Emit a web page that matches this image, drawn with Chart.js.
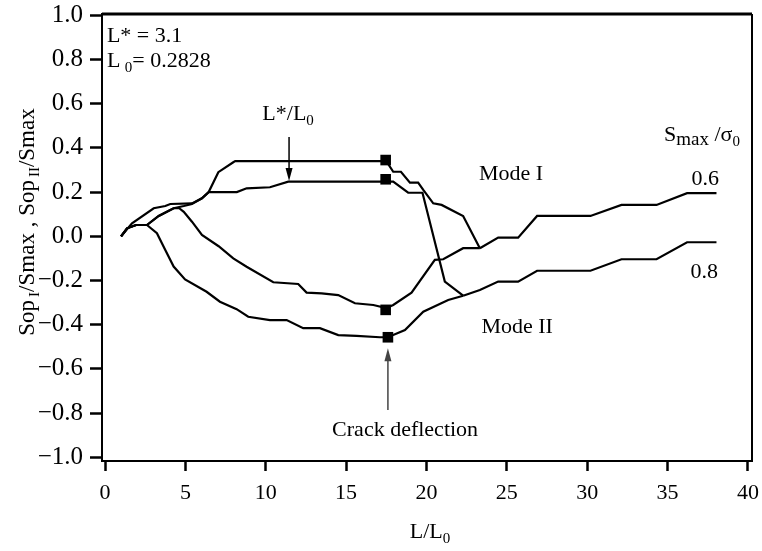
<!DOCTYPE html>
<html>
<head>
<meta charset="utf-8">
<script src="https://cdn.jsdelivr.net/npm/chart.js@4/dist/chart.umd.min.js"></script>
<style>
html,body{margin:0;padding:0;background:#fff;}
#wrap{width:762px;height:551px;}
</style>
</head>
<body>
<div id="wrap"><canvas id="c" width="762" height="551"></canvas></div>
<script>
// Axis ticks
const xTicks = [0, 5, 10, 15, 20, 25, 30, 35, 40];
const yTicks = [-1.0, -0.8, -0.6, -0.4, -0.2, 0.0, 0.2, 0.4, 0.6, 0.8, 1.0];

// Mode I, Smax/σ0 = 0.6
const modeI06X = [1, 1.68, 3.03, 3.75, 4.06, 5.41, 6.03, 6.45, 7.05, 7.98, 8.1, 17.5, 17.93, 18.41, 18.97, 19.48, 19.8, 20.42, 20.94, 22.28, 23.32];
const modeI06Y = [0, 0.059, 0.127, 0.137, 0.146, 0.149, 0.172, 0.2, 0.29, 0.335, 0.34, 0.34, 0.292, 0.292, 0.243, 0.243, 0.21, 0.149, 0.142, 0.092, -0.054];

// Mode I, Smax/σ0 = 0.8
const modeI08X = [1, 1.37, 1.93, 2.61, 3.34, 4.27, 4.9, 5.41, 6.03, 6.45, 8.2, 8.81, 10.26, 11.4, 17.5, 17.93, 18.86, 19.75, 21.14, 22.28];
const modeI08Y = [0, 0.036, 0.051, 0.051, 0.092, 0.127, 0.137, 0.146, 0.172, 0.2, 0.2, 0.217, 0.222, 0.247, 0.247, 0.247, 0.197, 0.197, -0.205, -0.269];

// Mode II, Smax/σ0 = 0.6
const modeII06X = [1, 1.37, 1.93, 2.61, 3.34, 4.27, 4.6, 4.9, 5.41, 6.03, 7.07, 7.98, 8.81, 10.47, 12.02, 12.54, 13.48, 14.51, 15.55, 16.69, 17.5, 17.93, 19.07, 20.52, 21.04, 22.28, 23.32];
const modeII06Y = [0, 0.036, 0.051, 0.051, 0.092, 0.127, 0.128, 0.111, 0.066, 0.006, -0.045, -0.1, -0.138, -0.208, -0.216, -0.255, -0.258, -0.266, -0.303, -0.311, -0.325, -0.311, -0.255, -0.107, -0.104, -0.054, -0.054];

// Mode II, Smax/σ0 = 0.8
const modeII08X = [1, 1.37, 1.93, 2.61, 3.23, 3.75, 4.27, 4.98, 6.32, 7.15, 8.19, 8.91, 10.26, 11.3, 12.33, 13.37, 14.51, 15.65, 17.1, 17.6, 18.66, 19.8, 21.35, 22.28];
const modeII08Y = [0, 0.036, 0.051, 0.051, 0.014, -0.062, -0.137, -0.195, -0.251, -0.296, -0.33, -0.364, -0.379, -0.379, -0.416, -0.416, -0.447, -0.451, -0.457, -0.457, -0.424, -0.341, -0.288, -0.269];

// After crack deflection the two modes share one curve
const tail06X = [23.32, 24.46, 25.7, 26.88, 30.2, 32.13, 34.31, 36.21, 38.04];
const tail06Y = [-0.054, -0.006, -0.006, 0.092, 0.092, 0.142, 0.142, 0.195, 0.195];
const tail08X = [22.28, 23.32, 24.46, 25.7, 26.88, 30.2, 32.13, 34.31, 36.21, 38.04];
const tail08Y = [-0.269, -0.243, -0.205, -0.205, -0.156, -0.156, -0.104, -0.104, -0.027, -0.027];

// Crack deflection points
const deflX = [17.46, 17.46, 17.46, 17.6];
const deflY = [0.345, 0.258, -0.333, -0.457];

const FONT = '"Liberation Serif", "Times New Roman", serif';
const pts = (xs, ys) => xs.map((x, i) => ({x: x, y: ys[i]}));

function lineSet(xs, ys) {
  return {
    type: 'line',
    data: pts(xs, ys),
    borderColor: '#000',
    borderWidth: 2.2,
    pointRadius: 0,
    tension: 0,
    fill: false
  };
}

// Text annotations, anchored in data units; parts = [text, size, baseline shift]
const notes = [
  {x: 0.12, y: 0.879, align: 'left', parts: [['L* = 3.1', 22, 0]]},
  {x: 0.12, y: 0.765, align: 'left', parts: [['L\u2009', 22, 0], ['0', 15, 5], ['= 0.2828', 22, 0]]},
  {x: 11.39, y: 0.526, align: 'center', parts: [['L*/L', 22, 0], ['0', 15, 5]]},
  {x: 25.26, y: 0.255, align: 'center', parts: [['Mode I', 22, 0]]},
  {x: 39.5, y: 0.431, align: 'right', parts: [['S', 22, 0], ['max', 19, 4], [' /\u03C3', 22, 0], ['0', 15, 5]]},
  {x: 37.34, y: 0.232, align: 'center', parts: [['0.6', 22, 0]]},
  {x: 37.28, y: -0.189, align: 'center', parts: [['0.8', 22, 0]]},
  {x: 25.64, y: -0.437, align: 'center', parts: [['Mode II', 22, 0]]},
  {x: 18.67, y: -0.904, align: 'center', parts: [['Crack deflection', 22, 0]]}
];

// Arrows: from tail to tip, in data units
const arrows = [
  {x: 11.45, y0: 0.449, y1: 0.25, color: '#000'},
  {x: 17.6, y0: -0.786, y1: -0.507, color: '#444'}
];

function rich(ctx, parts, x, y, align) {
  const widths = parts.map(p => { ctx.font = p[1] + 'px ' + FONT; return ctx.measureText(p[0]).width; });
  const total = widths.reduce((a, b) => a + b, 0);
  let sx = align === 'center' ? x - total / 2 : (align === 'right' ? x - total : x);
  ctx.textAlign = 'left';
  ctx.textBaseline = 'alphabetic';
  parts.forEach((p, i) => {
    ctx.font = p[1] + 'px ' + FONT;
    ctx.fillText(p[0], sx, y + p[2]);
    sx += widths[i];
  });
}

const decor = {
  id: 'decor',
  afterDraw(chart) {
    const ctx = chart.ctx;
    const a = chart.chartArea;
    const xs = chart.scales.x, ys = chart.scales.y;
    ctx.save();
    // closing frame lines (top and right)
    ctx.strokeStyle = '#000';
    ctx.lineWidth = 2.8;
    ctx.beginPath();
    ctx.moveTo(a.left, a.top);
    ctx.lineTo(a.right, a.top);
    ctx.stroke();
    ctx.lineWidth = 2;
    ctx.beginPath();
    ctx.moveTo(a.right, a.top);
    ctx.lineTo(a.right, a.bottom);
    ctx.stroke();

    ctx.fillStyle = '#000';
    notes.forEach(n => rich(ctx, n.parts, xs.getPixelForValue(n.x), ys.getPixelForValue(n.y), n.align));

    arrows.forEach(ar => {
      const px = xs.getPixelForValue(ar.x);
      const p0 = ys.getPixelForValue(ar.y0);
      const p1 = ys.getPixelForValue(ar.y1);
      const dir = p1 > p0 ? 1 : -1;
      ctx.strokeStyle = ar.color;
      ctx.fillStyle = ar.color;
      ctx.lineWidth = 1.5;
      ctx.beginPath();
      ctx.moveTo(px, p0);
      ctx.lineTo(px, p1 - dir * 10);
      ctx.stroke();
      ctx.beginPath();
      ctx.moveTo(px, p1);
      ctx.lineTo(px - 3.5, p1 - dir * 13);
      ctx.lineTo(px + 3.5, p1 - dir * 13);
      ctx.closePath();
      ctx.fill();
    });

    // axis titles
    ctx.fillStyle = '#000';
    rich(ctx, [['L/L', 22, 0], ['0', 15, 5]], (a.left + a.right) / 2 + 3, 538, 'center');
    ctx.translate(34, 222);
    ctx.rotate(-Math.PI / 2);
    rich(ctx, [['Sop', 23, 0], ['\u2009I', 15, 5], ['/Smax , Sop', 23, 0], ['\u2009II', 15, 5], ['/Smax', 23, 0]], 0, 0, 'center');
    ctx.restore();
  }
};

new Chart(document.getElementById('c'), {
  data: {
    datasets: [
      lineSet(modeI06X, modeI06Y),
      lineSet(modeI08X, modeI08Y),
      lineSet(modeII06X, modeII06Y),
      lineSet(modeII08X, modeII08Y),
      lineSet(tail06X, tail06Y),
      lineSet(tail08X, tail08Y),
      {
        type: 'scatter',
        data: pts(deflX, deflY),
        pointStyle: 'rect',
        pointRadius: 7.5,
        backgroundColor: '#000',
        borderColor: '#000',
        borderWidth: 0
      }
    ]
  },
  options: {
    responsive: false,
    devicePixelRatio: 1,
    animation: false,
    layout: {padding: {top: 14, right: 10, left: 0, bottom: 0}},
    plugins: {legend: {display: false}, tooltip: {enabled: false}},
    scales: {
      x: {
        type: 'linear',
        min: -0.187,
        max: 40.25,
        afterBuildTicks: s => { s.ticks = xTicks.map(v => ({value: v})); },
        afterFit: s => { s.height = 90; s.paddingLeft = 0; s.paddingRight = 0; },
        grid: {drawOnChartArea: false, drawTicks: true, tickLength: 10, tickWidth: 2.5, tickColor: '#000'},
        border: {display: true, color: '#000', width: 2},
        ticks: {color: '#000', font: {family: FONT, size: 22}, padding: 9, maxRotation: 0,
                callback: v => String(v)}
      },
      y: {
        type: 'linear',
        min: -1.017,
        max: 1.006,
        afterBuildTicks: s => { s.ticks = yTicks.map(v => ({value: v})); },
        afterFit: s => { s.width = 102; s.paddingTop = 0; s.paddingBottom = 0; },
        grid: {drawOnChartArea: false, drawTicks: true, tickLength: 12, tickWidth: 2.5, tickColor: '#000'},
        border: {display: true, color: '#000', width: 2},
        ticks: {color: '#000', font: {family: FONT, size: 25}, padding: 7,
                callback: v => (v < 0 ? '\u2212' : '') + Math.abs(v).toFixed(1)}
      }
    }
  },
  plugins: [decor]
});
</script>
</body>
</html>
